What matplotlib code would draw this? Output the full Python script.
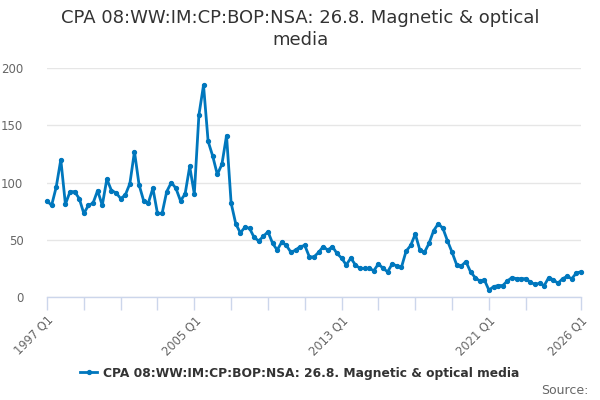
import matplotlib.pyplot as plt

# quarterly values, 1997 Q1 .. 2026 Q1
values = [
    84, 80, 96, 120, 81, 92, 92, 86, 73, 80, 82, 93, 80, 103, 93, 91,
    86, 89, 99, 127, 98, 84, 82, 95, 73, 73, 92, 100, 95, 84, 90, 114,
    90, 159, 185, 136, 123, 107, 116, 141, 82, 64, 56, 61, 60, 52, 49, 53,
    57, 47, 41, 48, 45, 39, 41, 44, 45, 35, 35, 39, 44, 41, 44, 38,
    34, 28, 34, 28, 25, 25, 25, 23, 29, 25, 22, 29, 27, 26, 40, 45,
    55, 41, 39, 47, 58, 64, 60, 49, 39, 28, 27, 31, 22, 17, 14, 15,
    6, 9, 10, 10, 14, 17, 16, 16, 16, 13, 11, 12, 10, 17, 15, 12,
    16, 18, 16, 21, 22,
]
quarters = [f"{1997 + i // 4} Q{i % 4 + 1}" for i in range(len(values))]
labelled = ["1997 Q1", "2005 Q1", "2013 Q1", "2021 Q1", "2026 Q1"]
y_ticks = [0, 50, 100, 150, 200]

series_name = "CPA 08:WW:IM:CP:BOP:NSA: 26.8. Magnetic & optical media"
line_color = "#0077bd"
text_grey = "#666666"
axis_color = "#ccd6eb"

fig = plt.figure(figsize=(6, 4), dpi=100)
ax = fig.add_axes([47 / 600, 1 - 297 / 400, 534 / 600, 229 / 400])

x = list(range(len(values)))
ax.plot(x, values, color=line_color, linewidth=2, marker="o", markersize=2.8,
        clip_on=False, zorder=3, label=series_name)

ax.set_xlim(0, len(values) - 1)
ax.set_ylim(0, 200)

# x ticks every 8 quarters, plus the final quarter
tick_pos = list(range(0, len(values) - 1, 8))
if tick_pos[-1] > len(values) - 6:
    tick_pos = tick_pos[:-1]
tick_pos.append(len(values) - 1)
ax.set_xticks(tick_pos)
ax.set_xticklabels([quarters[i] if quarters[i] in labelled else "" for i in tick_pos],
                   rotation=45, ha="right", rotation_mode="anchor",
                   fontsize=8.3, color=text_grey)
ax.tick_params(axis="x", length=9, width=1, color=axis_color, pad=3)

ax.set_yticks(y_ticks)
ax.set_yticklabels([str(v) for v in y_ticks], fontsize=8.5, color=text_grey)
ax.tick_params(axis="y", length=0, pad=17)
ax.grid(axis="y", color="#e6e6e6", linewidth=1)
ax.set_axisbelow(True)

for side in ["top", "right", "left"]:
    ax.spines[side].set_visible(False)
ax.spines["bottom"].set_color(axis_color)
ax.spines["bottom"].set_linewidth(1)
ax.spines["bottom"].set_zorder(1)

fig.text(0.5, 1 - 18 / 400, "CPA 08:WW:IM:CP:BOP:NSA: 26.8. Magnetic & optical",
         ha="center", va="center", fontsize=13, color="#333333")
fig.text(0.5, 1 - 40 / 400, "media", ha="center", va="center",
         fontsize=13, color="#333333")

leg = fig.legend(loc="center", bbox_to_anchor=(0.5, 1 - 373 / 400), frameon=False,
                 prop={"size": 8.8, "weight": "bold"}, handlelength=1.4,
                 handletextpad=0.5, labelcolor="#333333")

fig.text(589 / 600, 1 - 390 / 400, "Source:", ha="right", va="center",
         fontsize=9, color=text_grey)

fig.savefig("out.png", dpi=100)
